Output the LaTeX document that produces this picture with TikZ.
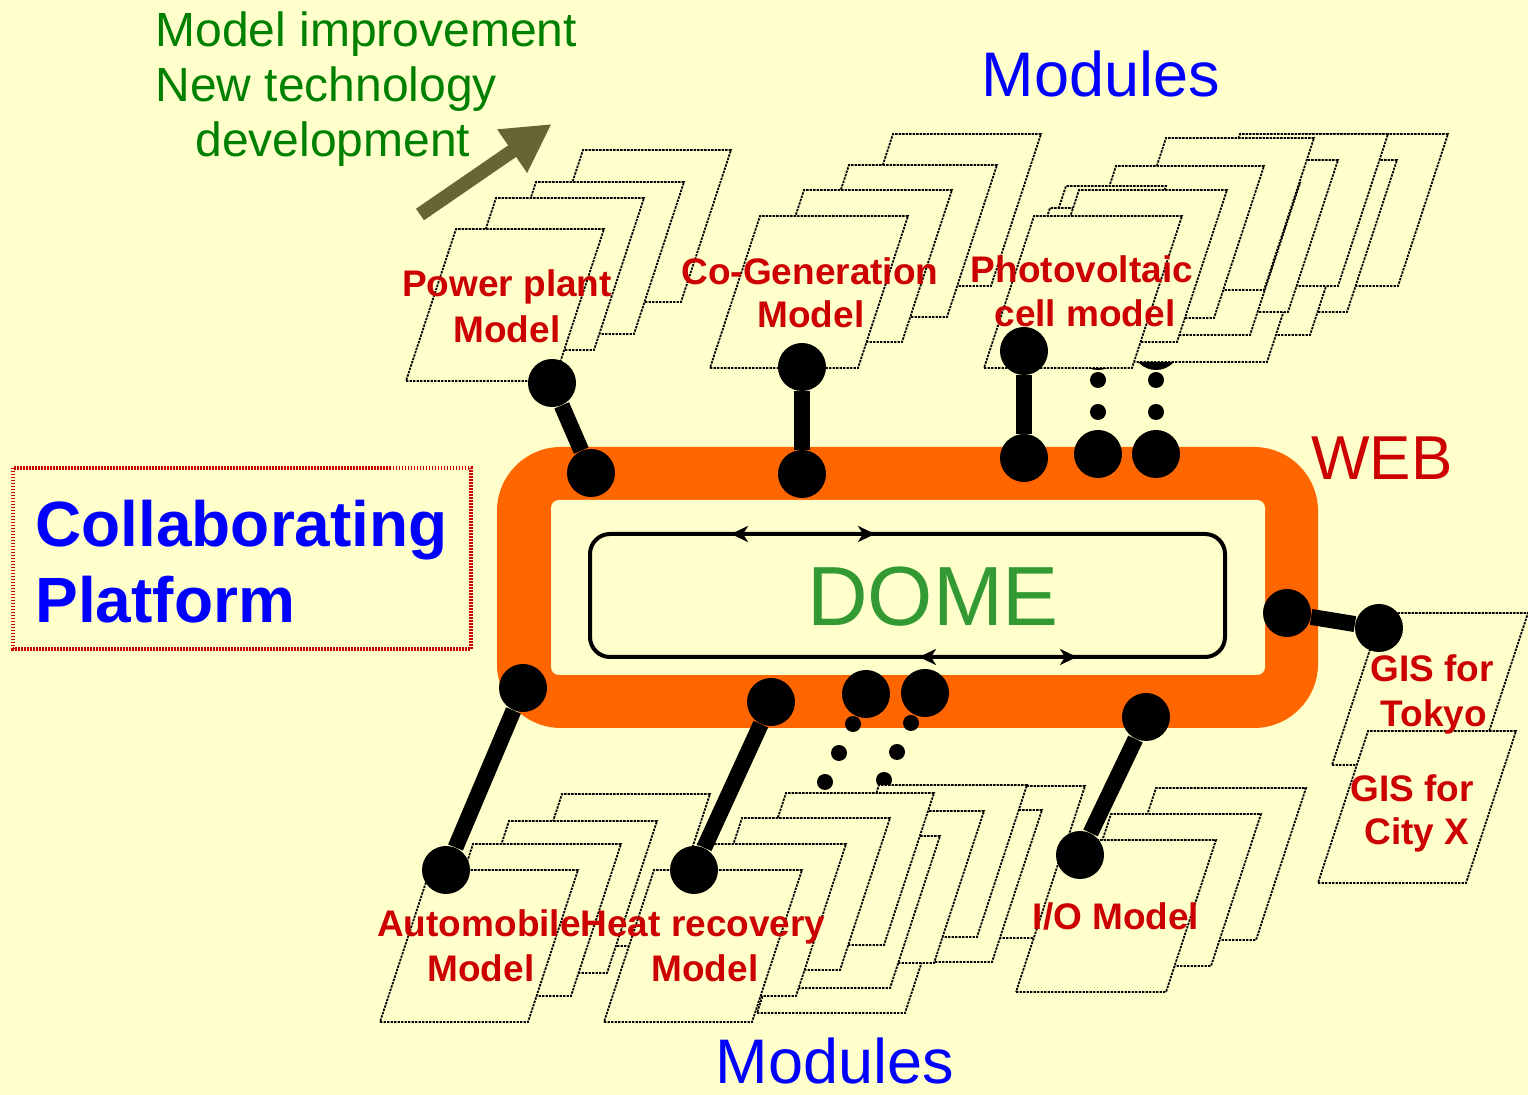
\documentclass[tikz,border=0pt]{standalone}
\usepackage{fontspec}
\setmainfont{Liberation Sans}
\usetikzlibrary{arrows.meta}
\definecolor{bg}{HTML}{FFFFCC}
\definecolor{webor}{HTML}{FF6600}
\definecolor{lblred}{HTML}{CC0000}
\definecolor{domegreen}{HTML}{339933}
\definecolor{txtgreen}{HTML}{008000}
\definecolor{olivearrow}{HTML}{666633}
\definecolor{modblue}{HTML}{0000FF}
\newcommand\pgram[3][148]{\filldraw[pg] (#2,#3) -- ++(#1,0) -- ++(50,-152) -- ++(-#1,0) -- cycle;}
\begin{document}
\begin{tikzpicture}[x=0.5pt,y=-0.5pt,
  pg/.style={fill=bg, draw=black, line width=0.9pt, dash pattern=on 1.2pt off 0.55pt},
  dot/.style={circle, fill=black, inner sep=0pt, minimum size=24pt},
  smalldot/.style={circle, fill=black, inner sep=0pt, minimum size=8pt},
  conn/.style={line width=8pt, draw=black},
  lbl/.style={text=lblred, font=\fontsize{18.5}{20}\bfseries\selectfont, inner sep=0pt, anchor=base},
  modtxt/.style={text=modblue, font=\fontsize{31.5}{34}\selectfont, inner sep=0pt, anchor=base},
  grtxt/.style={text=txtgreen, font=\fontsize{24}{26}\selectfont, inner sep=0pt, anchor=base west},
  cptxt/.style={text=modblue, font=\fontsize{32}{34}\bfseries\selectfont, inner sep=0pt, anchor=base west},
  domeline/.style={line width=2pt, draw=black},
  domearrow/.style={line width=2pt, {Stealth[length=8.5pt,width=8pt,inset=2.5pt]}-{Stealth[length=8.5pt,width=8pt,inset=2.5pt]}}
]
\fill[bg] (0,0) rectangle (1528,1095);
\useasboundingbox (0,0) rectangle (1528,1095);

% Collaborating platform
\draw[draw=lblred, line width=2.4pt, dash pattern=on 0.75pt off 0.75pt] (13,468) rectangle (471,649);
\node[cptxt] (cp1) at (35,547) {Collaborating};
\node[cptxt] (cp2) at (35,623) {Platform};

% green text and arrow
\node[grtxt] (gr1) at (155,47) {Model improvement};
\node[grtxt] (gr2) at (155,102) {New technology};
\node[grtxt] (gr3) at (195,157) {development};
\coordinate (arrtail) at (420,214.5);
\coordinate (arrtip) at (551.7,124);
\draw[draw=olivearrow, fill=olivearrow, line width=7pt, -{Triangle[length=24pt,width=24.6pt]}] (arrtail) -- (arrtip);

% WEB ring and DOME
\fill[webor, rounded corners=32pt] (497,447) rectangle (1318,728);
\fill[bg, rounded corners=4pt] (551,500) rectangle (1265,675);
\node[domeline, rounded corners=10pt, minimum width=317.5pt, minimum height=61.5pt, inner sep=0pt] (domebox) at (907.5,595.5) {};
\draw[domearrow] (731,534) -- (875,534);
\draw[domearrow] (919,657) -- (1077,657);
\node[text=domegreen, font=\fontsize{42}{44}\selectfont, inner sep=0pt, anchor=base] (dometxt) at (933,626) {DOME};
\node[text=lblred, font=\fontsize{31}{33}\selectfont, inner sep=0pt, anchor=base] (webtxt) at (1382,480) {WEB};

% dots hidden behind modules
\node[dot] (pvh1) at (1098,346) {};
\node[dot] (pvh2) at (1156,346) {};
\node[smalldot] (bd1) at (853,724) {};
\node[smalldot] (bd2) at (911,723) {};
\node[smalldot] (bd3) at (839,753) {};
\node[smalldot] (bd4) at (897,752) {};
\node[smalldot] (bd5) at (825,782) {};
\node[smalldot] (bd6) at (884,780) {};

% power plant stack
\pgram{533}{302}
\pgram{486}{334}
\pgram{446}{350}
\pgram{406}{381}
% co-generation stack
\pgram{843}{286}
\pgram{799}{317}
\pgram{754}{342}
\pgram{710}{368}
% photovoltaic cluster
\pgram{1250}{286}
\pgram{1199}{312}
\pgram{1162}{335}
\pgram{1119}{362}
\pgram{1190}{286}
\pgram{1140}{312}
\pgram{1102}{335}
\pgram{1116}{290}
\pgram{1066}{318}
\pgram[100]{1016}{338}
\pgram[100]{1000}{360}
\pgram{1029}{342}
\pgram{984}{368}
% automobile stack
\pgram{512}{946}
\pgram{459}{973}
\pgram{423}{996}
\pgram{380}{1022}
% middle bottom cluster
\pgram{757}{1013}
\pgram{887}{938}
\pgram{844}{962}
\pgram{829}{937}
\pgram{786}{963}
\pgram{742}{988}
% heat recovery stack
\pgram{736}{945}
\pgram{692}{970}
\pgram{648}{996}
\pgram{604}{1022}
% I/O stack
\pgram[150]{1106}{940}
\pgram[150]{1061}{966}
\pgram[150]{1016}{992}
% GIS
\pgram[146]{1332}{765}
\pgram{1318}{883}

% connectors
\node[dot] (ppa) at (552,383) {};
\node[dot] (ppb) at (591,473) {};
\draw[conn] (ppa) -- (ppb);
\node[dot] (cga) at (802,367) {};
\node[dot] (cgb) at (802,474) {};
\draw[conn] (cga) -- (cgb);
\node[dot] (pva) at (1024,351) {};
\node[dot] (pvb) at (1024,458) {};
\draw[conn] (pva) -- (pvb);
\node[smalldot] (pvs1) at (1098,380) {};
\node[smalldot] (pvs2) at (1098,412) {};
\node[smalldot] (pvs3) at (1156,380) {};
\node[smalldot] (pvs4) at (1156,412) {};
\node[dot] (pvw1) at (1098,454) {};
\node[dot] (pvw2) at (1156,454) {};
\node[dot] (aua) at (523,688) {};
\node[dot] (aub) at (446,870) {};
\draw[conn] (aua) -- (aub);
\node[dot] (hra) at (771,702) {};
\node[dot] (hrb) at (694,870) {};
\draw[conn] (hra) -- (hrb);
\node[dot] (bw1) at (866,694) {};
\node[dot] (bw2) at (925,693) {};
\node[dot] (ioa) at (1146,717) {};
\node[dot] (iob) at (1080,855) {};
\draw[conn] (ioa) -- (iob);
\node[dot] (gsa) at (1287,613) {};
\node[dot] (gsb) at (1379,628) {};
\draw[conn] (gsa) -- (gsb);

% labels
\node[lbl] (pp1) at (507,297) {Power plant};
\node[lbl] (pp2) at (507,343) {Model};
\node[lbl] (cg1) at (810,285) {Co-Generation};
\node[lbl] (cg2) at (811,328) {Model};
\node[lbl] (pv1) at (1082,283) {Photovoltaic};
\node[lbl] (pv2) at (1085,327) {cell model};
\node[lbl] (au1) at (479,937) {Automobile};
\node[lbl] (au2) at (481,982) {Model};
\node[lbl] (hr1) at (703,937) {Heat recovery};
\node[lbl] (hr2) at (705,982) {Model};
\node[lbl] (io1) at (1116,930) {I/O Model};
\node[lbl] (gt1) at (1432,682) {GIS for};
\node[lbl] (gt2) at (1434,727) {Tokyo};
\node[lbl] (gx1) at (1412,802) {GIS for};
\node[lbl] (gx2) at (1417,845) {City X};
\node[modtxt] (modtop) at (1101,97) {Modules};
\node[modtxt, text depth=0pt] (modbot) at (835,1084) {Modules};
\end{tikzpicture}
\end{document}
